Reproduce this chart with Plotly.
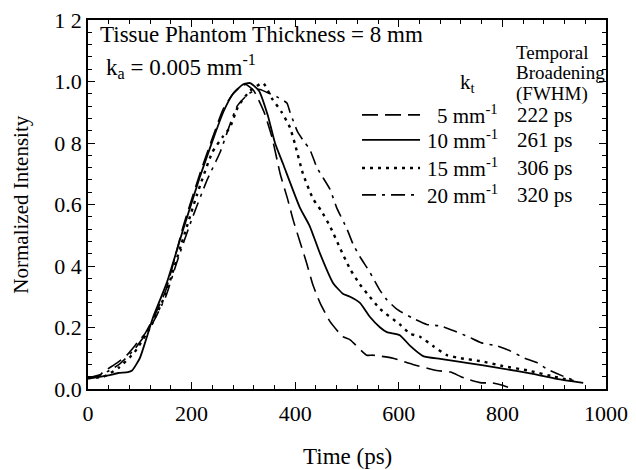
import plotly.graph_objects as go

# ---- data ----
t_5 = [0, 20, 29, 56, 75, 95, 110, 129, 150, 184, 216, 241, 261, 280, 295, 305, 320, 340, 355, 371, 385, 396, 409, 422, 434, 448, 467, 492, 506, 538, 550, 589, 627, 673, 700, 720, 737, 760, 780, 800, 820]
y_5 = [0.035, 0.04, 0.055, 0.085, 0.11, 0.15, 0.18, 0.24, 0.32, 0.53, 0.70, 0.82, 0.91, 0.96, 0.985, 0.99, 0.97, 0.90, 0.82, 0.70, 0.62, 0.55, 0.48, 0.41, 0.34, 0.28, 0.22, 0.17, 0.16, 0.11, 0.11, 0.10, 0.08, 0.06, 0.055, 0.04, 0.03, 0.02, 0.02, 0.012, 0.0]

t_10 = [0, 25, 42, 58, 77, 85, 100, 110, 125, 152, 184, 216, 241, 261, 280, 299, 313, 330, 347, 361, 377, 409, 428, 448, 473, 492, 506, 525, 544, 564, 577, 602, 622, 647, 680, 731, 795, 859, 905, 956]
y_10 = [0.035, 0.04, 0.045, 0.052, 0.055, 0.06, 0.10, 0.15, 0.23, 0.345, 0.52, 0.69, 0.81, 0.90, 0.96, 0.99, 0.995, 0.97, 0.89, 0.80, 0.73, 0.59, 0.53, 0.44, 0.345, 0.31, 0.30, 0.28, 0.235, 0.20, 0.185, 0.175, 0.14, 0.107, 0.098, 0.085, 0.068, 0.049, 0.033, 0.02]

t_15 = [0, 30, 60, 90, 120, 150, 180, 210, 240, 260, 274, 290, 313, 338, 355, 374, 390, 399, 415, 434, 450, 467, 486, 506, 525, 544, 564, 602, 622, 641, 666, 693, 720, 760, 800, 850, 900, 940]
y_15 = [0.035, 0.04, 0.07, 0.12, 0.20, 0.31, 0.47, 0.63, 0.77, 0.82, 0.85, 0.92, 0.97, 0.995, 0.945, 0.90, 0.85, 0.80, 0.70, 0.62, 0.58, 0.53, 0.46, 0.39, 0.34, 0.30, 0.26, 0.21, 0.18, 0.17, 0.14, 0.11, 0.10, 0.09, 0.075, 0.06, 0.04, 0.025]

t_20 = [0, 30, 60, 90, 120, 150, 171, 200, 230, 255, 288, 310, 330, 345, 365, 384, 390, 405, 419, 428, 442, 467, 480, 500, 512, 525, 544, 564, 577, 596, 627, 654, 680, 705, 734, 760, 790, 815, 843, 868, 886, 925, 935]
y_20 = [0.035, 0.05, 0.08, 0.13, 0.20, 0.30, 0.41, 0.55, 0.68, 0.77, 0.92, 0.96, 0.975, 0.965, 0.95, 0.93, 0.90, 0.835, 0.80, 0.78, 0.72, 0.65, 0.59, 0.52, 0.47, 0.43, 0.38, 0.32, 0.29, 0.26, 0.23, 0.21, 0.205, 0.19, 0.17, 0.15, 0.14, 0.124, 0.10, 0.085, 0.065, 0.036, 0.03]

series_kt = ["5 mm<sup>-1</sup>", "10 mm<sup>-1</sup>", "15 mm<sup>-1</sup>", "20 mm<sup>-1</sup>"]
series_fwhm = ["222 ps", "261 ps", "306 ps", "320 ps"]
header_lines = ["Temporal", "Broadening", "(FWHM)"]

x_tickvals = [0, 200, 400, 600, 800, 1000]
x_ticktext = ["0", "200", "400", "600", "800", "1000"]
y_tickvals = [0, 0.2, 0.4, 0.6, 0.8, 1.0, 1.2]
y_ticktext = ["0.0", "0.2", "0 4", "0.6", "0 8", "1.0", "1 2"]

# ---- styles ----
FONT = "'Liberation Serif', 'DejaVu Serif', serif"
dashes = ["16px,7px", "solid", "3px,5px", "14px,6px,3px,6px"]
widths = [1.6, 1.8, 2.4, 1.6]

fig = go.Figure()
for tx, ty, d, w in zip([t_5, t_10, t_15, t_20], [y_5, y_10, y_15, y_20], dashes, widths):
    fig.add_trace(go.Scatter(x=tx, y=ty, mode="lines",
                             line=dict(color="black", width=w, dash=d, shape="spline", smoothing=0.5),
                             showlegend=False, hoverinfo="skip"))

# legend table drawn with shapes/annotations in paper coordinates
row_y = [0.743, 0.675, 0.599, 0.526]
for ry, d, w, kt, fw in zip(row_y, dashes, widths, series_kt, series_fwhm):
    fig.add_shape(type="line", xref="paper", yref="paper", x0=0.529, x1=0.641, y0=ry, y1=ry,
                  line=dict(color="black", width=w, dash=d))
    fig.add_annotation(xref="paper", yref="paper", x=0.795, y=ry, text=kt, showarrow=False,
                       xanchor="right", yanchor="middle", font=dict(family=FONT, size=21, color="black"))
    fig.add_annotation(xref="paper", yref="paper", x=0.825, y=ry, text=fw, showarrow=False,
                       xanchor="left", yanchor="middle", font=dict(family=FONT, size=21, color="black"))

header_y = [0.913, 0.859, 0.800]
for hy, ht in zip(header_y, header_lines):
    fig.add_annotation(xref="paper", yref="paper", x=0.822, y=hy, text=ht, showarrow=False,
                       xanchor="left", yanchor="middle", font=dict(family=FONT, size=19, color="black"))

fig.add_annotation(xref="paper", yref="paper", x=0.732, y=0.83, text="k<sub>t</sub>", showarrow=False,
                   xanchor="center", yanchor="middle", font=dict(family=FONT, size=21, color="black"))
fig.add_annotation(xref="paper", yref="paper", x=0.020, y=1.0,
                   text="Tissue Phantom Thickness = 8 mm", showarrow=False,
                   xanchor="left", yanchor="top", font=dict(family=FONT, size=23, color="black"))
fig.add_annotation(xref="paper", yref="paper", x=0.030, y=0.875,
                   text="k<sub>a</sub> = 0.005 mm<sup>-1</sup>", showarrow=False,
                   xanchor="left", yanchor="middle", font=dict(family=FONT, size=23, color="black"))
fig.add_annotation(xref="paper", yref="paper", x=-0.131, y=0.5, textangle=-90,
                   text="Normalized Intensity", showarrow=False,
                   xanchor="center", yanchor="middle", font=dict(family=FONT, size=21, color="black"))
fig.add_annotation(xref="paper", yref="paper", x=0.5, y=-0.184,
                   text="Time (ps)", showarrow=False,
                   xanchor="center", yanchor="middle", font=dict(family=FONT, size=23, color="black"))

axis_common = dict(showline=True, linecolor="black", linewidth=1.5, mirror="ticks",
                   ticks="inside", ticklen=7, tickwidth=1.2, tickcolor="black",
                   showgrid=False, zeroline=False, automargin=False,
                   tickfont=dict(family=FONT, size=22, color="black"))

fig.update_xaxes(range=[0, 1000], tickvals=x_tickvals, ticktext=x_ticktext,
                 minor=dict(dtick=40, ticks="inside", ticklen=4, tickcolor="black", showgrid=False),
                 ticklabelstandoff=4, **axis_common)
fig.update_yaxes(range=[0, 1.2], tickvals=y_tickvals, ticktext=y_ticktext,
                 minor=dict(dtick=0.04, ticks="inside", ticklen=4, tickcolor="black", showgrid=False),
                 **axis_common)

fig.update_layout(width=636, height=470, margin=dict(l=88, r=30, t=20, b=81),
                  paper_bgcolor="white", plot_bgcolor="white",
                  font=dict(family=FONT, color="black"))

fig.write_html("out.html")
